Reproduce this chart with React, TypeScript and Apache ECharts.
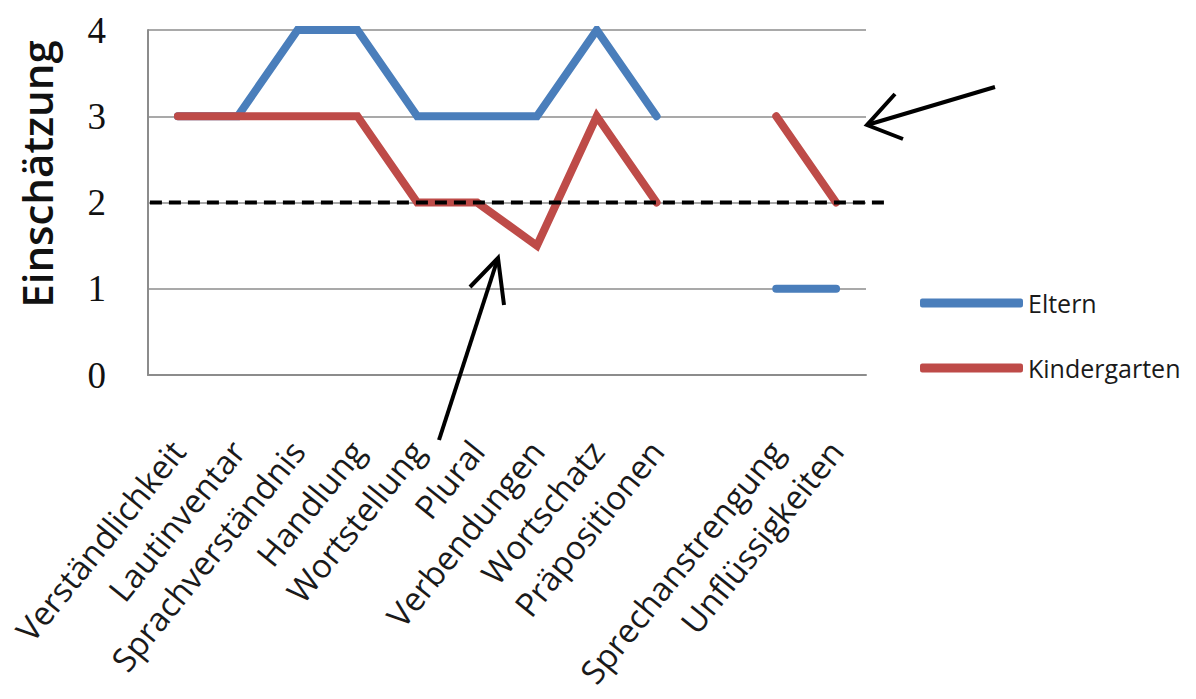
import React, { useEffect, useRef } from "react";
import * as echarts from "echarts";

const categories = [
  "Verständlichkeit",
  "Lautinventar",
  "Sprachverständnis",
  "Handlung",
  "Wortstellung",
  "Plural",
  "Verbendungen",
  "Wortschatz",
  "Präpositionen",
  "",
  "Sprechanstrengung",
  "Unflüssigkeiten",
];

const eltern = [3, 3, 4, 4, 3, 3, 3, 4, 3, null, 1, 1];
const kindergarten = [3, 3, 3, 3, 2, 2, 1.5, 3, 2, null, 3, 2];

const thresholdValue = 2;
const yTicks = [0, 1, 2, 3, 4];

const BLUE = "#4A7EBB";
const RED = "#BE4B48";
const GRID_GRAY = "#8C8C8C";
const SANS = "'Open Sans', 'Noto Sans', sans-serif";

export default function App() {
  const ref = useRef<HTMLDivElement>(null);

  useEffect(() => {
    document.body.style.margin = "0";
    if (!ref.current) return;
    const chart = echarts.init(ref.current, null, { renderer: "svg" });

    chart.setOption({
      animation: false,
      backgroundColor: "#ffffff",
      grid: { left: 148, right: 330, top: 30, bottom: 324, containLabel: false },
      legend: {
        orient: "vertical",
        left: 920,
        top: 288,
        padding: 0,
        icon: "roundRect",
        itemWidth: 103,
        itemHeight: 9,
        itemGap: 35,
        textStyle: { fontFamily: SANS, fontSize: 25, color: "#1a1a1a", lineHeight: 30 },
        data: ["Eltern", "Kindergarten"],
      },
      xAxis: {
        type: "category",
        data: categories,
        boundaryGap: true,
        axisLine: { show: true, lineStyle: { color: GRID_GRAY, width: 2 } },
        axisTick: { show: false },
        axisLabel: {
          interval: 0,
          rotate: 51,
          margin: 70,
          fontFamily: SANS,
          fontSize: 33,
          color: "#1a1a1a",
        },
      },
      yAxis: {
        type: "value",
        min: 0,
        max: 4,
        interval: 1,
        axisLine: { show: true, lineStyle: { color: GRID_GRAY, width: 2 } },
        axisTick: { show: false },
        splitLine: { show: true, lineStyle: { color: GRID_GRAY, width: 1.5 } },
        axisLabel: {
          margin: 42,
          fontFamily: "'Liberation Serif', serif",
          fontSize: 37,
          color: "#111111",
          formatter: (v: number) => (yTicks.includes(v) ? String(v) : ""),
        },
      },
      series: [
        {
          name: "Eltern",
          type: "line",
          data: eltern,
          symbol: "none",
          connectNulls: false,
          itemStyle: { color: BLUE },
          lineStyle: { color: BLUE, width: 8, cap: "round", join: "miter" },
          z: 2,
        },
        {
          name: "Kindergarten",
          type: "line",
          data: kindergarten,
          symbol: "none",
          connectNulls: false,
          itemStyle: { color: RED },
          lineStyle: { color: RED, width: 8, cap: "round", join: "miter" },
          z: 3,
        },
      ],
    });

    // Threshold line and annotation arrows, placed from the axis scale
    const y2 = chart.convertToPixel({ yAxisIndex: 0 }, thresholdValue) as number;
    const x0 = chart.convertToPixel({ xAxisIndex: 0 }, categories[0]) as number;
    const gridLeft = x0 - 30;

    chart.setOption({
      graphic: [
        {
          id: "threshold",
          type: "line",
          z: 100,
          shape: { x1: gridLeft + 2, y1: y2, x2: 888, y2: y2 },
          style: { stroke: "#000000", lineWidth: 4, lineDash: [12, 7] },
        },
        {
          id: "arrowRight",
          type: "polyline",
          z: 100,
          shape: { points: [[995, 87], [867, 125]] },
          style: { stroke: "#000000", lineWidth: 4, fill: null },
        },
        {
          id: "arrowRightHead",
          type: "polyline",
          z: 100,
          shape: { points: [[895, 94], [867, 125], [903, 139]] },
          style: { stroke: "#000000", lineWidth: 4, fill: null },
        },
        {
          id: "arrowUp",
          type: "polyline",
          z: 100,
          shape: { points: [[439, 440], [498, 258]] },
          style: { stroke: "#000000", lineWidth: 4, fill: null },
        },
        {
          id: "arrowUpHead",
          type: "polyline",
          z: 100,
          shape: { points: [[470, 287], [498, 258], [504, 305]] },
          style: { stroke: "#000000", lineWidth: 4, fill: null },
        },
        {
          id: "yTitle",
          type: "text",
          z: 100,
          x: 36,
          y: 174,
          rotation: Math.PI / 2,
          style: {
            text: "Einschätzung",
            fontFamily: SANS,
            fontSize: 42,
            fontWeight: 600,
            fill: "#111111",
            align: "center",
            verticalAlign: "middle",
          },
        },
      ],
    });

    return () => chart.dispose();
  }, []);

  return <div ref={ref} style={{ width: 1196, height: 699 }} />;
}
